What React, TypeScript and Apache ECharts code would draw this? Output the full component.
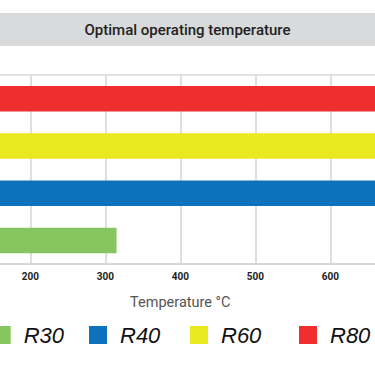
import React, { useEffect, useRef } from "react";
import * as echarts from "echarts";

const categories = ["R30", "R40", "R60", "R80"];
const r30 = [315, "-", "-", "-"];
const r40 = ["-", 700, "-", "-"];
const r60 = ["-", "-", 750, "-"];
const r80 = ["-", "-", "-", 800];
const colors = ["#86c55f", "#0b72bb", "#eae81e", "#ee2f2e"];
const legendLefts = [-7.3, 89, 190, 299];
const titleText = "Optimal operating temperature";
const axisTitle = "Temperature °C";
const visibleTickMin = 200;
const visibleTickMax = 600;

export default function App() {
  const ref = useRef<HTMLDivElement>(null);
  useEffect(() => {
    document.body.style.margin = "0";
    const chart = echarts.init(ref.current!, null, { renderer: "svg" });
    const seriesData = [r30, r40, r60, r80];
    chart.setOption({
      animation: false,
      graphic: [
        {
          type: "rect",
          shape: { x: 0, y: 13, width: 375, height: 33 },
          style: { fill: "#d9dadb" },
          silent: true,
        },
        {
          type: "text",
          x: 187.5,
          y: 30,
          style: {
            text: titleText,
            fill: "#222222",
            font: "500 15px Roboto",
            textAlign: "center",
            textVerticalAlign: "middle",
          },
        },
      ],
      legend: categories.map((c, i) => ({
        data: [c],
        left: legendLefts[i],
        top: 324,
        padding: 0,
        icon: "rect",
        itemWidth: 18,
        itemHeight: 18,
        selectedMode: false,
        textStyle: {
          fontSize: 22,
          fontStyle: "italic",
          fontFamily: "Liberation Sans",
          color: "#111111",
          padding: [0, 0, 0, 8],
        },
      })),
      grid: {
        left: -119.7,
        width: 600,
        top: 75,
        bottom: 102,
        outerBoundsMode: "none",
        containLabel: false,
        show: true,
        borderColor: "#d9d9d9",
        borderWidth: 1.5,
        backgroundColor: "transparent",
      },
      xAxis: {
        type: "value",
        min: 0,
        max: 800,
        interval: 100,
        name: axisTitle,
        nameLocation: "middle",
        nameGap: 31,
        nameTextStyle: { fontSize: 14.5, fontFamily: "Roboto", color: "#555555" },
        axisLine: { show: true, lineStyle: { color: "#d4d4d4", width: 1.5 } },
        axisTick: { show: false },
        axisLabel: {
          fontSize: 10,
          fontWeight: "bold",
          fontFamily: "Roboto",
          color: "#222222",
          margin: 7,
          formatter: (v: number) =>
            v >= visibleTickMin && v <= visibleTickMax ? String(v) : "",
        },
        splitLine: { show: true, lineStyle: { color: "#d4d4d4", width: 1.5 } },
      },
      yAxis: {
        type: "category",
        data: categories,
        axisLine: { show: false },
        axisTick: { show: false },
        axisLabel: { show: false },
      },
      series: categories.map((c, i) => ({
        name: c,
        type: "bar",
        stack: "all",
        barWidth: 25.5,
        data: seriesData[i],
        itemStyle: { color: colors[i] },
      })),
    });
    return () => chart.dispose();
  }, []);
  return <div ref={ref} style={{ width: 375, height: 366 }} />;
}
